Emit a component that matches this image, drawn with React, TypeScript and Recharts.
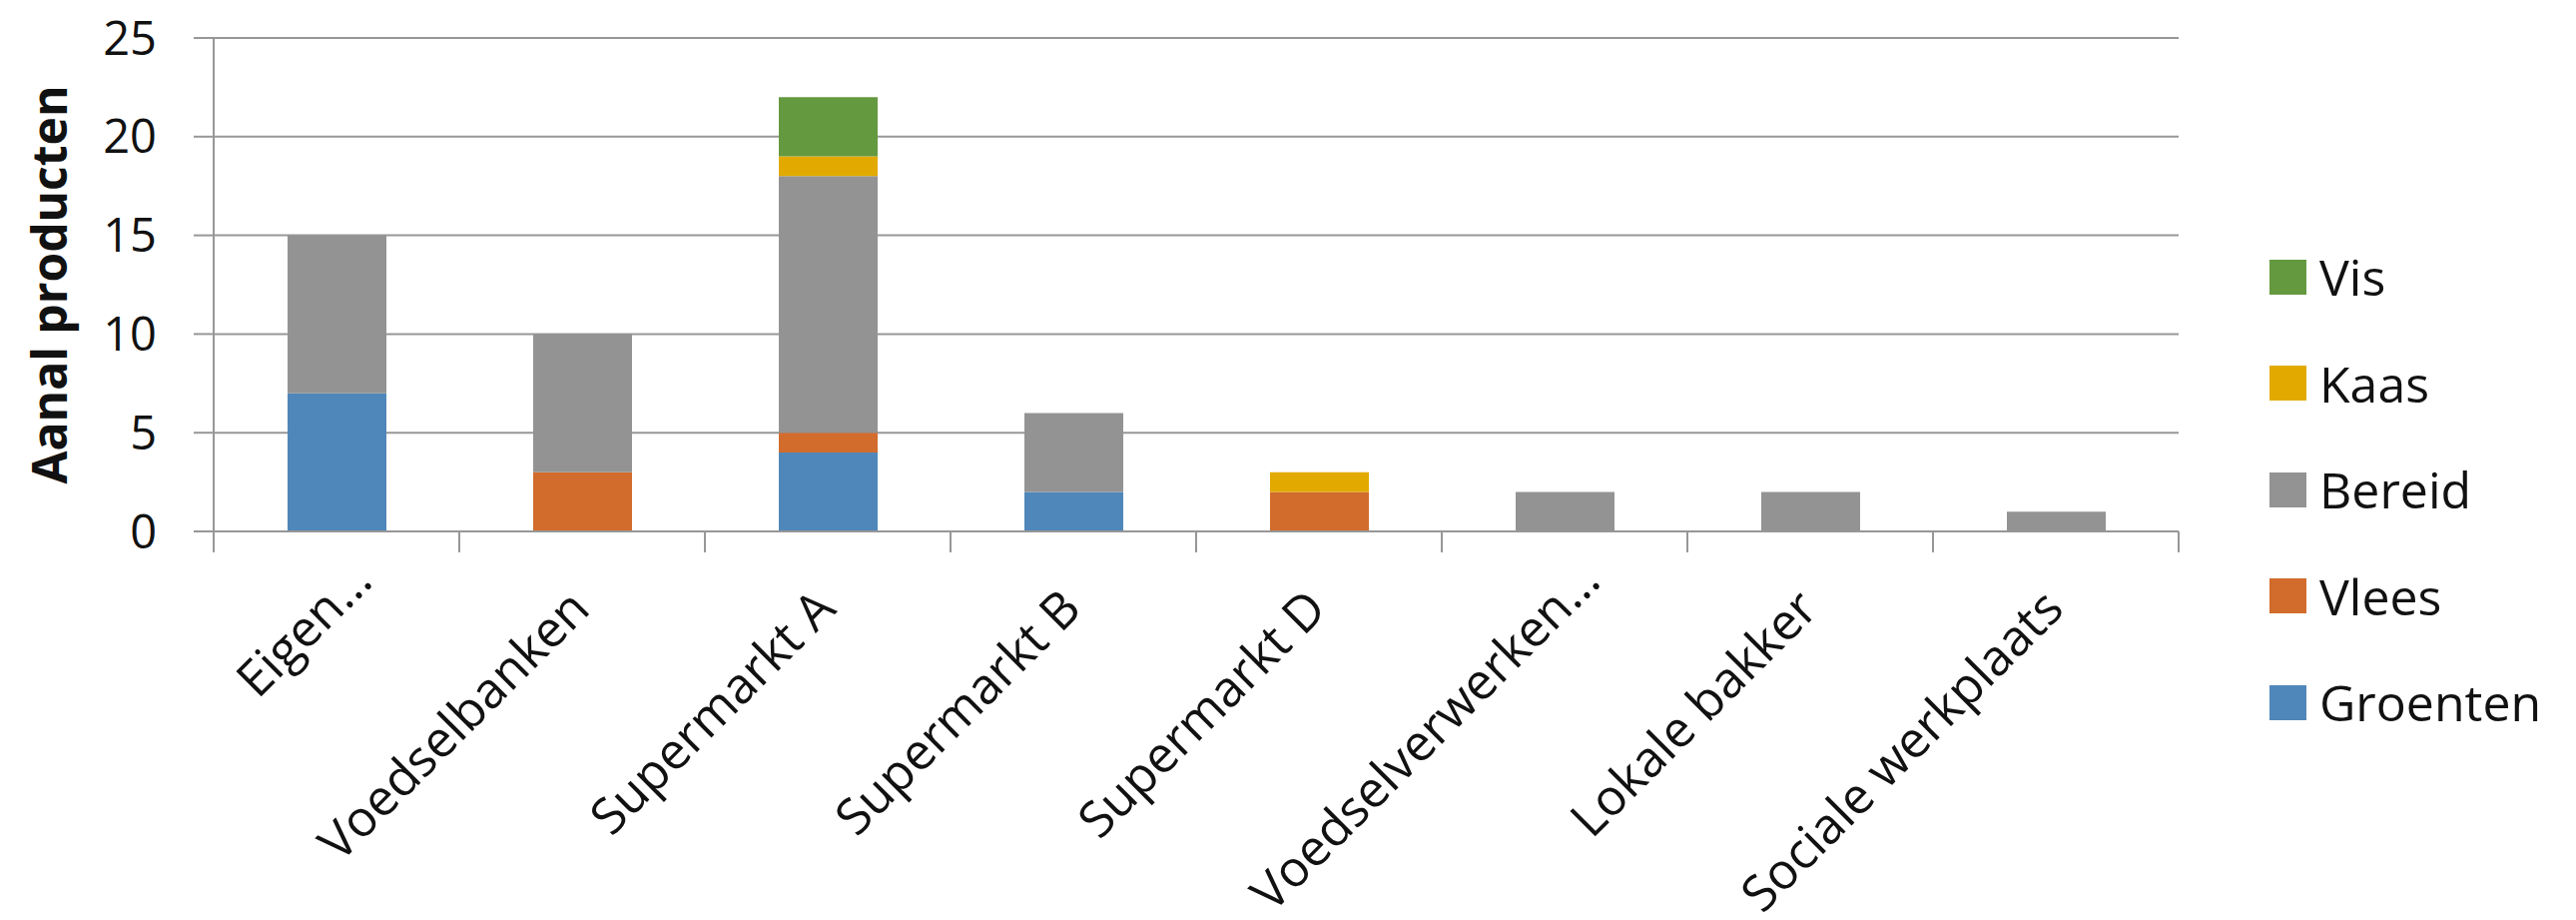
import { Bar, BarChart, CartesianGrid, XAxis, YAxis } from 'recharts'

const categories = [
  'Eigen…',
  'Voedselbanken',
  'Supermarkt A',
  'Supermarkt B',
  'Supermarkt D',
  'Voedselverwerken…',
  'Lokale bakker',
  'Sociale werkplaats',
]
const groenten = [7, 0, 4, 2, 0, 0, 0, 0]
const vlees = [0, 3, 1, 0, 2, 0, 0, 0]
const bereid = [8, 7, 13, 4, 0, 2, 2, 1]
const kaas = [0, 0, 1, 0, 1, 0, 0, 0]
const vis = [0, 0, 3, 0, 0, 0, 0, 0]
const yTicks = [0, 5, 10, 15, 20, 25]
const yTitle = 'Aanal producten'

// stacking order, bottom to top
const series = [
  { key: 'groenten', name: 'Groenten', color: '#4f87ba' },
  { key: 'vlees', name: 'Vlees', color: '#d26c2c' },
  { key: 'bereid', name: 'Bereid', color: '#939393' },
  { key: 'kaas', name: 'Kaas', color: '#e2aa00' },
  { key: 'vis', name: 'Vis', color: '#64993f' },
]

const chartData = categories.map((name, i) => ({
  name,
  groenten: groenten[i],
  vlees: vlees[i],
  bereid: bereid[i],
  kaas: kaas[i],
  vis: vis[i],
}))

const lineGray = '#979797'
const font = "'Open Sans', sans-serif"

const CategoryTick = (props: any) => {
  const { x, y, payload, index } = props
  const half = payload?.offset || 123
  const label = String(payload.value)
  // truncated labels sit further along the slant
  const extra = label.endsWith('…') ? 28 : 0
  const ax = x + 10 + extra
  const ay = y + 80 - extra
  return (
    <g>
      <line x1={x - half} y1={y} x2={x - half} y2={y + 21} stroke={lineGray} strokeWidth={2} />
      {index === categories.length - 1 && (
        <line x1={x + half} y1={y} x2={x + half} y2={y + 21} stroke={lineGray} strokeWidth={2} />
      )}
      <text
        transform={`translate(${ax},${ay}) rotate(-45)`}
        textAnchor="end"
        fontSize={50}
        fill="#111"
        fontFamily={font}
      >
        {label}
      </text>
    </g>
  )
}

const YTitle = () => (
  <text
    transform="translate(67,285) rotate(-90)"
    textAnchor="middle"
    fontSize={48}
    fontWeight="bold"
    fill="#111"
    fontFamily={font}
  >
    {yTitle}
  </text>
)

export default function App() {
  return (
    <div
      style={{
        position: 'absolute',
        left: 0,
        top: 0,
        width: 2580,
        height: 921,
        background: '#fff',
        fontFamily: font,
      }}
    >
      <BarChart
        width={2580}
        height={921}
        data={chartData}
        margin={{ top: 38, right: 398, left: 0, bottom: 0 }}
        barSize={99}
      >
        <CartesianGrid vertical={false} stroke={lineGray} strokeWidth={2} />
        <XAxis
          dataKey="name"
          height={389}
          interval={0}
          tickSize={0}
          tickMargin={0}
          tickLine={false}
          axisLine={{ stroke: lineGray, strokeWidth: 2 }}
          tick={<CategoryTick />}
        />
        <YAxis
          width={214}
          domain={[0, 25]}
          ticks={yTicks}
          interval={0}
          tickSize={20}
          tickMargin={37}
          axisLine={{ stroke: lineGray, strokeWidth: 2 }}
          tickLine={{ stroke: lineGray, strokeWidth: 2 }}
          tick={{ fontSize: 47, fill: '#111', fontFamily: font }}
          label={<YTitle />}
        />
        {series.map((s) => (
          <Bar
            key={s.key}
            dataKey={s.key}
            name={s.name}
            stackId="a"
            fill={s.color}
            isAnimationActive={false}
          />
        ))}
      </BarChart>
      <div style={{ position: 'absolute', left: 2273, top: 224 }}>
        {[...series].reverse().map((s) => (
          <div
            key={s.key}
            style={{ height: 106.5, display: 'flex', alignItems: 'center' }}
          >
            <div style={{ width: 37, height: 35, background: s.color, marginRight: 13 }} />
            <span style={{ fontSize: 50, color: '#111', lineHeight: '106.5px' }}>{s.name}</span>
          </div>
        ))}
      </div>
    </div>
  )
}
